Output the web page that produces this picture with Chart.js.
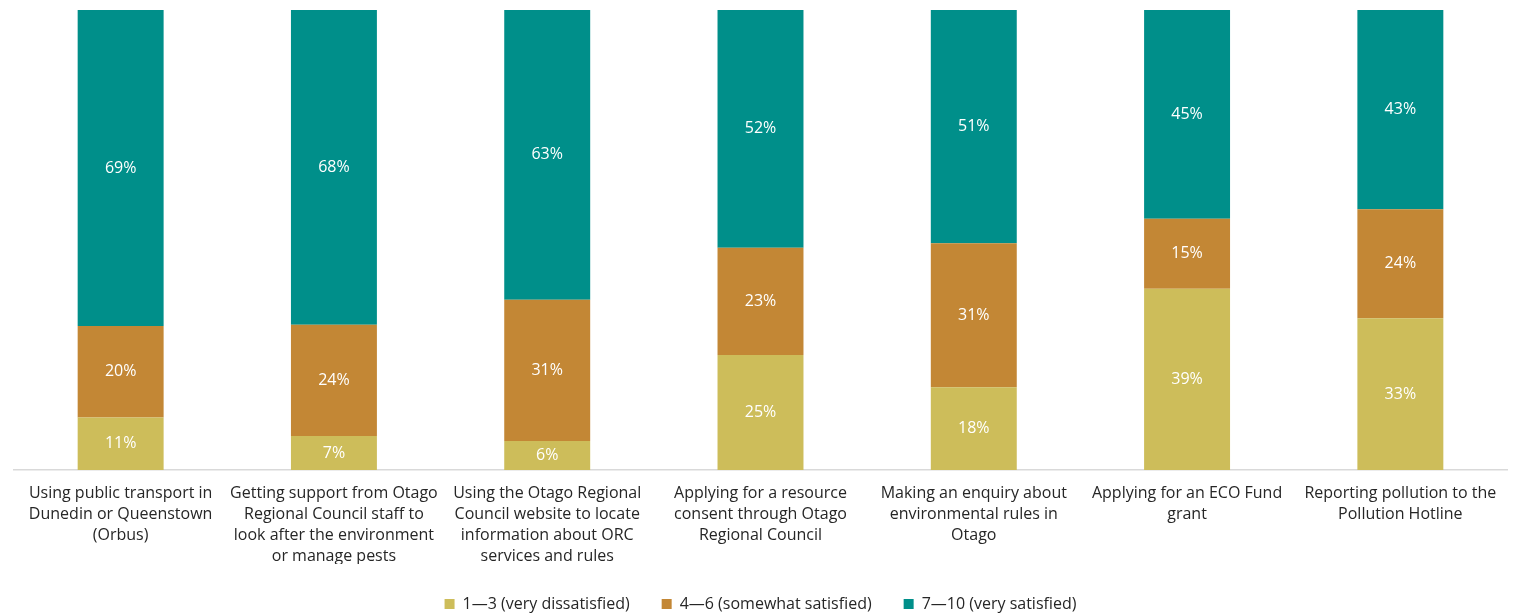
<!DOCTYPE html>
<html>
<head>
<meta charset="utf-8">
<script src="https://cdn.jsdelivr.net/npm/chart.js@4/dist/chart.umd.min.js"></script>
<style>
html,body{margin:0;padding:0;background:#fff;}
#wrap{width:1513px;height:614px;}
</style>
</head>
<body>
<div id="wrap"><canvas id="chart"></canvas></div>
<script>
// categories (multi-line as in the picture)
const categories = [
  ["Using public transport in","Dunedin or Queenstown","(Orbus)"],
  ["Getting support from Otago","Regional Council staff to","look after the environment","or manage pests"],
  ["Using the Otago Regional","Council website to locate","information about ORC","services and rules"],
  ["Applying for a resource","consent through Otago","Regional Council"],
  ["Making an enquiry about","environmental rules in","Otago"],
  ["Applying for an ECO Fund","grant"],
  ["Reporting pollution to the","Pollution Hotline"]
];

const seriesNames = ["1\u20143 (very dissatisfied)","4\u20146 (somewhat satisfied)","7\u201410 (very satisfied)"];

// shares in %
const dissatisfied = [11.4, 7.4, 6.3, 25.0, 18.0, 39.4, 33.0];
const somewhat     = [19.9, 24.2, 30.7, 23.3, 31.3, 15.2, 23.7];
const satisfied    = [68.7, 68.4, 63.0, 51.7, 50.7, 45.4, 43.3];

const colors = ["#cdbd5a","#c38735","#008f8a"];

const fontFam = "'Open Sans', 'Liberation Sans', sans-serif";

/* white % labels in the middle of each segment */
const segLabels = {
  id:"segLabels",
  afterInit(chart){
    // keep the legend strip short, the wide padding is only wanted sideways
    let lg = chart.legend;
    let fit = lg.fit;
    lg.fit = function(){
      fit.call(this);
      this.height = 50;
    };
  },
  afterDatasetsDraw(chart){
    const ctx = chart.ctx;
    ctx.save();
    ctx.fillStyle = "#ffffff";
    ctx.font = "16px " + fontFam;
    ctx.textAlign = "center";
    ctx.textBaseline = "middle";
    chart.data.datasets.forEach(function(ds,i){
      chart.getDatasetMeta(i).data.forEach(function(bar,j){
        let mid = (bar.y + bar.base)/2;
        ctx.fillText(Math.round(ds.data[j]) + "%", bar.x, mid);
      });
    });
    ctx.restore();
  }
};

new Chart(document.getElementById("chart"),{
  type:"bar",
  data:{
    labels:categories,
    datasets:[
      {label:seriesNames[0],data:dissatisfied,backgroundColor:colors[0]},
      {label:seriesNames[1],data:somewhat,backgroundColor:colors[1]},
      {label:seriesNames[2],data:satisfied,backgroundColor:colors[2]}
    ]
  },
  options:{
    responsive:true,
    maintainAspectRatio:false,
    animation:false,
    layout:{padding:{top:10,left:14,right:6,bottom:0}},
    datasets:{bar:{categoryPercentage:1,barPercentage:0.403}},
    scales:{
      x:{
        stacked:true,
        grid:{display:false,drawTicks:false},
        border:{display:true,color:"#d9d9d9",width:1.5},
        ticks:{
          color:"#262626",
          font:{family:fontFam,size:16,lineHeight:1.32},
          padding:13,
          maxRotation:0,
          autoSkip:false
        },
        afterFit:function(scale){ scale.height = 94; }
      },
      y:{
        stacked:true,
        display:false,
        min:0,
        max:100
      }
    },
    plugins:{
      legend:{
        position:"bottom",
        labels:{
          color:"#262626",
          font:{family:fontFam,size:16},
          boxWidth:10,
          boxHeight:10,
          padding:32
        }
      },
      tooltip:{enabled:false}
    }
  },
  plugins:[segLabels]
});
</script>
</body>
</html>
